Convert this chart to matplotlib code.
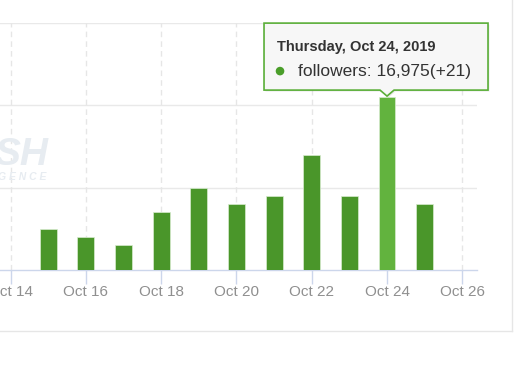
import matplotlib
matplotlib.use("Agg")
import matplotlib.pyplot as plt
from matplotlib.patches import Polygon, Circle
from matplotlib.lines import Line2D
from matplotlib.transforms import IdentityTransform

# daily follower gains, Oct 15 - Oct 25 2019
days = [15, 16, 17, 18, 19, 20, 21, 22, 23, 24, 25]
gains = [5, 4, 3, 7, 10, 8, 9, 14, 9, 21, 8]
tick_days = [14, 16, 18, 20, 22, 24, 26]
tick_labels = ["Oct 14", "Oct 16", "Oct 18", "Oct 20", "Oct 22", "Oct 24", "Oct 26"]
hover_day = 24
tooltip_title = "Thursday, Oct 24, 2019"
tooltip_text = "followers: 16,975(+21)"

W, H = 531, 368
fig = plt.figure(figsize=(W / 100, H / 100), dpi=100)
fig.patch.set_facecolor("white")
plt.rcParams["font.family"] = ["Liberation Sans", "DejaVu Sans"]

# plot area in pixels (left, top, right, bottom)
L, T, R, B = 0, 23, 477, 270
ax = fig.add_axes([L / W, 1 - B / H, (R - L) / W, (B - T) / H])
ax.set_xlim(13.72, 26.39)
ax.set_ylim(0, 30)

for s in ["top", "right", "left"]:
    ax.spines[s].set_visible(False)
ax.spines["bottom"].set_color("#ccd6eb")
ax.spines["bottom"].set_linewidth(1)

ax.set_yticks([10, 20, 30])
ax.tick_params(axis="y", left=False, labelleft=False)
ax.set_xticks(tick_days)
ax.set_xticklabels(tick_labels)
ax.tick_params(axis="x", colors="#ccd6eb", length=10, width=1, pad=0.5,
               labelcolor="#8f8f8f", labelsize=11)

for y in [10, 20, 30]:
    ax.axhline(y, color="#e9e9e9", lw=1, zorder=0)
for d in tick_days:
    ax.axvline(d, color="#e6e6e6", lw=1, ls=(0, (4, 3)), zorder=0)

colors = ["#62b33e" if d == hover_day else "#4a962a" for d in days]
ax.bar(days, gains, width=0.45, color=colors, edgecolor="#d8ecd0", linewidth=0.5, zorder=3)

# watermark
fig.text(-0.01, 1 - 165 / H, "SH", fontsize=28, fontweight="bold",
         style="italic", color="#e7ecf1", zorder=1)
fig.text(-0.004, 1 - 180 / H, "G E N C E", fontsize=7.5, style="italic", fontweight="bold",
         color="#e7ecf1", zorder=1)

# card border
fig.add_artist(Line2D([0, 512 / W], [1 - 331 / H] * 2, transform=fig.transFigure,
                      color="#e6e6e6", lw=1))
fig.add_artist(Line2D([512 / W] * 2, [1 - 331 / H, 1], transform=fig.transFigure,
                      color="#e6e6e6", lw=1))

# tooltip anchored on hovered bar
ax_x, ax_y = ax.transData.transform((hover_day, gains[days.index(hover_day)]))
ay = ax_y + 1
bx0, bx1 = ax_x - 123, ax_x + 101
by0, by1 = ay + 6, ay + 73
pts = [(bx0, by0), (ax_x - 7, by0), (ax_x, ay), (ax_x + 7, by0), (bx1, by0),
       (bx1, by1), (bx0, by1)]
shadow = Polygon([(x + 1.5, y - 1.5) for x, y in pts], closed=True, transform=IdentityTransform(),
                 facecolor="#000000", alpha=0.08, edgecolor="none", zorder=9)
tip = Polygon(pts, closed=True, transform=IdentityTransform(), facecolor="#f7f7f7",
              edgecolor="#5aae38", lw=1.2, zorder=10)
fig.add_artist(shadow)
fig.add_artist(tip)
fig.text((ax_x - 110) / W, (ay + 49) / H, tooltip_title, fontsize=10.5, fontweight="bold",
         color="#333333", va="center", zorder=11)
fig.add_artist(Circle((ax_x - 107, ay + 25), 3.6, transform=IdentityTransform(),
                      color="#4a9e2a", zorder=11))
fig.text((ax_x - 89) / W, (ay + 25) / H, tooltip_text, fontsize=12.5,
         color="#333333", va="center", zorder=11)

fig.savefig("out.png", dpi=100)
